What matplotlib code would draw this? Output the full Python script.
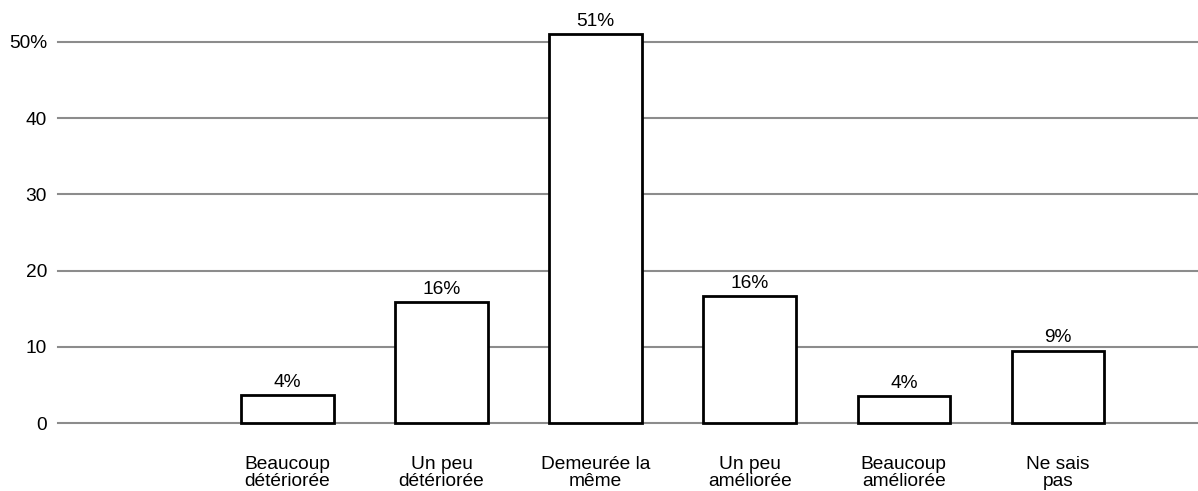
import matplotlib.pyplot as plt

plt.rcParams['font.family'] = ['Liberation Sans', 'DejaVu Sans']

categories = ['Beaucoup\ndétériorée', 'Un peu\ndétériorée', 'Demeurée la\nmême',
              'Un peu\naméliorée', 'Beaucoup\naméliorée', 'Ne sais\npas']
values = [3.7, 15.9, 51.0, 16.6, 3.5, 9.5]
value_labels = ['4%', '16%', '51%', '16%', '4%', '9%']
yticks = [0, 10, 20, 30, 40, 50]
ytick_labels = ['0', '10', '20', '30', '40', '50%']

fig = plt.figure(figsize=(11.98, 4.91), dpi=100)
ax = fig.add_axes([58 / 1198, 68 / 491, 1 - 58 / 1198, 423 / 491])

x = list(range(len(categories)))
bars = ax.bar(x, values, width=0.6, color='white', edgecolor='black', linewidth=2, zorder=3)
for b in bars:
    b.set_clip_on(False)

for xi, v, lab in zip(x, values, value_labels):
    ax.annotate(lab, (xi, v), xytext=(0, 3), textcoords='offset points',
                ha='center', va='bottom', fontsize=13.8)

ax.set_xlim(-1.49, 5.91)
ax.set_ylim(0, 55.5)
ax.set_yticks(yticks)
ax.set_yticklabels(ytick_labels, fontsize=13.8)
ax.set_xticks(x)
ax.set_xticklabels(categories, fontsize=13.8, linespacing=0.95)
ax.tick_params(axis='both', length=0)
ax.tick_params(axis='x', pad=24)
ax.tick_params(axis='y', pad=8)
ax.set_axisbelow(True)
ax.yaxis.grid(True, color='#8c8c8c', linewidth=1.5)
for gl in ax.get_ygridlines():
    gl.set_clip_on(False)
for s in ax.spines.values():
    s.set_visible(False)

fig.savefig('out.png', dpi=100)
